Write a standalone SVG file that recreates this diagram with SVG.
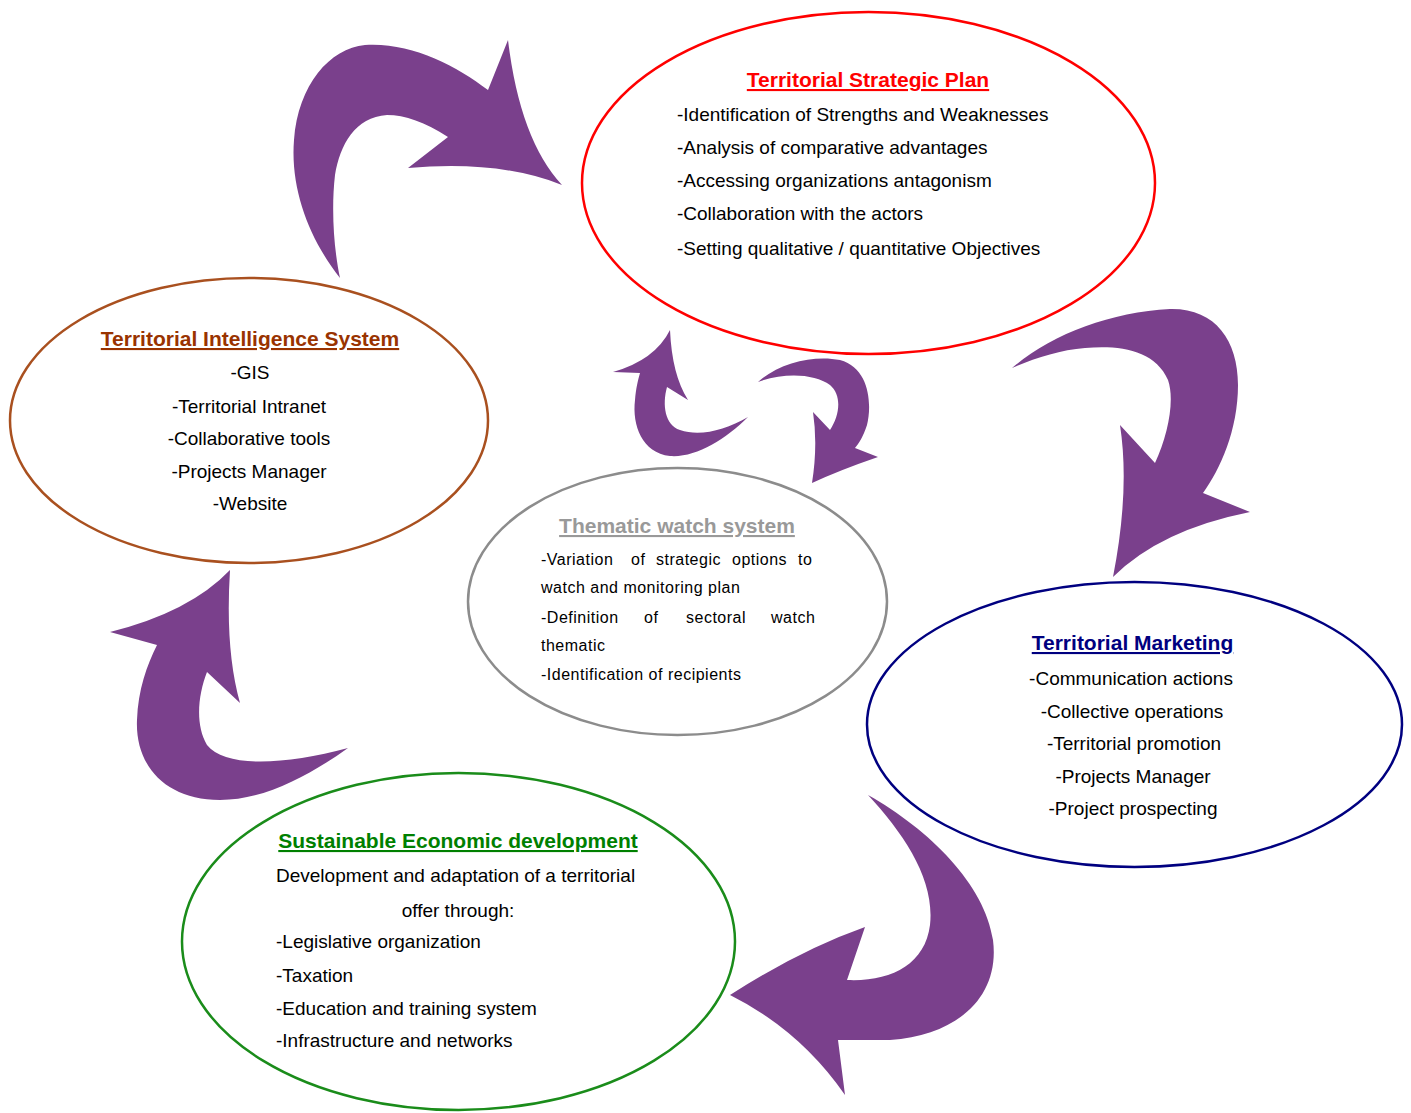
<svg xmlns="http://www.w3.org/2000/svg" width="1411" height="1113" viewBox="0 0 1411 1113">
  <style>
    text { font-family: "Liberation Sans", Arial, sans-serif; }
    .title { font-size: 21px; font-weight: bold; text-decoration: underline; }
    .body { font-size: 19px; fill: #000; }
    .small { font-size: 16px; fill: #000; letter-spacing: 0.5px; }
    .mid { text-anchor: middle; }
    .ring { fill: #fff; stroke-width: 2.5; }
    .arrow { fill: #7a408c; }
  </style>
  <rect width="1411" height="1113" fill="#fff"/>

  <!-- curved block arrows linking the stages -->
  <g id="connectors">
    <path class="arrow" d="M340,278 C 310,240 290,190 294,140 C 298,85 330,48 365,45 C 410,42 455,65 488,90 L 508,40 Q 520,140 562,185 Q 500,160 408,168 L 448,137 C 425,122 405,115 387,115 C 355,117 340,145 335,175 C 331,210 334,250 340,278 Z"/>
    <path class="arrow" d="M1012,368 C 1050,335 1110,312 1170,309 C 1215,308 1238,340 1238,385 C 1238,430 1220,470 1203,493 L 1250,512 Q 1160,530 1113,577 Q 1130,490 1120,425 L 1155,463 C 1168,435 1175,400 1168,380 C 1155,350 1120,345 1085,348 C 1060,350 1035,358 1012,368 Z"/>
    <path class="arrow" d="M868,795 C 930,830 985,885 993,940 C 1000,995 960,1035 890,1040 L 838,1040 L 845,1095 Q 800,1030 730,995 Q 800,950 865,927 L 847,980 C 890,982 925,965 930,925 C 935,880 905,835 868,795 Z"/>
    <path class="arrow" d="M348,748 C 310,775 265,800 220,800 C 165,800 135,765 137,720 C 138,690 147,665 157,645 L 110,632 Q 190,612 230,570 Q 225,650 240,703 L 207,672 C 198,695 195,725 207,745 C 225,768 285,765 348,748 Z"/>
    <path class="arrow" d="M748,417 C 725,440 695,458 670,456 C 642,453 632,425 635,400 C 636,388 638,380 640,373 L 613,372 Q 655,360 670,330 Q 672,375 688,400 L 667,387 C 662,405 665,425 680,430 C 700,437 725,430 748,417 Z"/>
    <path class="arrow" d="M758,382 C 780,362 815,355 840,360 C 870,368 872,405 867,425 C 863,437 859,443 855,448 L 878,457 Q 840,470 812,483 Q 818,445 813,412 L 830,430 C 840,415 842,395 830,385 C 815,374 785,372 758,382 Z"/>
  </g>

  <g id="strategic-plan">
    <ellipse class="ring" cx="868.5" cy="183" rx="286.5" ry="171" stroke="#ff0000"/>
    <text class="title mid" x="868" y="87" fill="#ff0000">Territorial Strategic Plan</text>
    <text class="body" x="677" y="121">-Identification of Strengths and Weaknesses</text>
    <text class="body" x="677" y="154">-Analysis of comparative advantages</text>
    <text class="body" x="677" y="187">-Accessing organizations antagonism</text>
    <text class="body" x="677" y="220">-Collaboration with the actors</text>
    <text class="body" x="677" y="255">-Setting qualitative / quantitative Objectives</text>
  </g>

  <g id="intelligence-system">
    <ellipse class="ring" cx="249" cy="420.5" rx="239" ry="142.5" stroke="#a9501f"/>
    <text class="title mid" x="250" y="346" fill="#993300">Territorial Intelligence System</text>
    <text class="body mid" x="250" y="379">-GIS</text>
    <text class="body mid" x="249" y="413">-Territorial Intranet</text>
    <text class="body mid" x="249" y="445">-Collaborative tools</text>
    <text class="body mid" x="249" y="478">-Projects Manager</text>
    <text class="body mid" x="250" y="510">-Website</text>
  </g>

  <g id="watch-system">
    <ellipse class="ring" cx="677.5" cy="601.5" rx="209.5" ry="133.5" stroke="#8c8c8c"/>
    <text class="title mid" x="677" y="533" fill="#999999">Thematic watch system</text>
    <text class="small" y="565"><tspan x="541">-Variation</tspan><tspan x="631">of</tspan><tspan x="656">strategic</tspan><tspan x="732">options</tspan><tspan x="798">to</tspan></text>
    <text class="small" x="541" y="593">watch and monitoring plan</text>
    <text class="small" y="623"><tspan x="541">-Definition</tspan><tspan x="644">of</tspan><tspan x="686">sectoral</tspan><tspan x="771">watch</tspan></text>
    <text class="small" x="541" y="651">thematic</text>
    <text class="small" x="541" y="680">-Identification of recipients</text>
  </g>

  <g id="territorial-marketing">
    <ellipse class="ring" cx="1134.5" cy="724.5" rx="267.5" ry="142.5" stroke="#000080"/>
    <text class="title mid" x="1132.5" y="650" fill="#000080">Territorial Marketing</text>
    <text class="body mid" x="1131" y="685">-Communication actions</text>
    <text class="body mid" x="1132" y="718">-Collective operations</text>
    <text class="body mid" x="1134" y="750">-Territorial promotion</text>
    <text class="body mid" x="1133" y="783">-Projects Manager</text>
    <text class="body mid" x="1133" y="815">-Project prospecting</text>
  </g>

  <g id="economic-development">
    <ellipse class="ring" cx="458.5" cy="941.5" rx="276.5" ry="168.5" stroke="#1a8c1a"/>
    <text class="title mid" x="458" y="848" fill="#008000">Sustainable Economic development</text>
    <text class="body" x="276" y="882">Development and adaptation of a territorial</text>
    <text class="body mid" x="458" y="917">offer through:</text>
    <text class="body" x="276" y="948">-Legislative organization</text>
    <text class="body" x="276" y="982">-Taxation</text>
    <text class="body" x="276" y="1015">-Education and training system</text>
    <text class="body" x="276" y="1047">-Infrastructure and networks</text>
  </g>
</svg>
